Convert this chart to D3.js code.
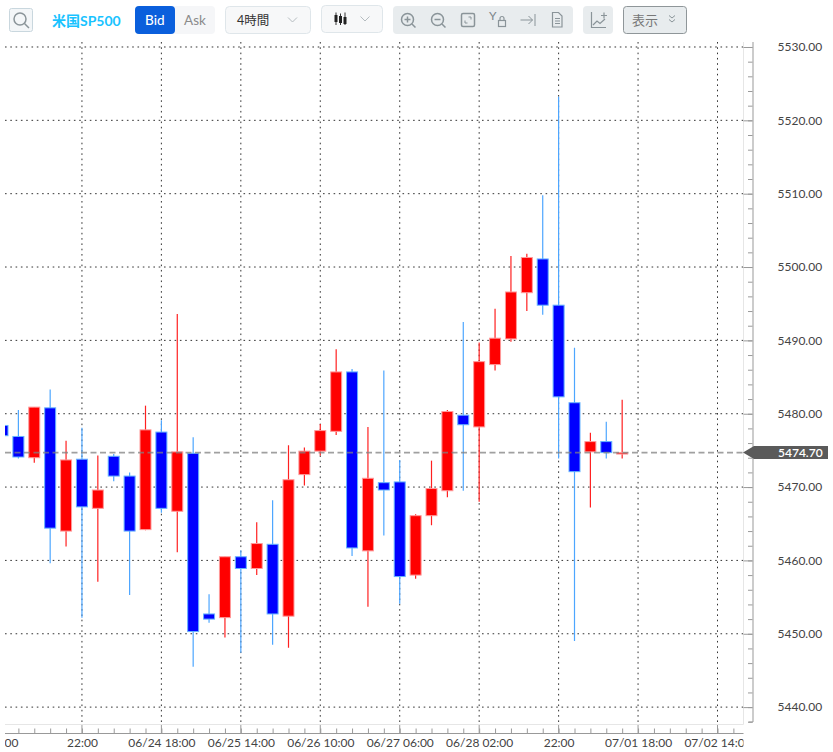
<!DOCTYPE html>
<html lang="ja">
<head>
<meta charset="UTF-8">
<title>米国SP500 4時間</title>
<script src="https://d3js.org/d3.v7.min.js"></script>
<style>
    body { margin: 0; background: #fff; font-family: Lato, "Noto Sans CJK JP", sans-serif; }
    svg { display: block; }
    .tick text { font-family: Lato, sans-serif; font-size: 12px; fill: #444; }
    .icon { fill: none; }
    .tb-text { font-family: Lato, "Noto Sans CJK JP", sans-serif; dominant-baseline: central; }
</style>
</head>
<body>
<svg id="chart" width="833" height="752"></svg>
<script>
// 4 hour candles
const opens  = [5478.4, 5476.9, 5474.0, 5480.8, 5464.0, 5473.8, 5467.1, 5474.2, 5471.5, 5464.2,
                5477.5, 5466.7, 5474.6, 5452.7, 5452.2, 5460.5, 5458.9, 5462.2, 5452.4, 5471.7,
                5474.9, 5477.6, 5485.7, 5461.3, 5470.6, 5470.7, 5458.0, 5466.1, 5469.5, 5479.8,
                5478.2, 5486.7, 5490.2, 5496.5, 5501.1, 5494.8, 5481.5, 5474.8, 5476.2, 5474.5];
const closes = [5477.0, 5474.1, 5480.9, 5464.4, 5473.7, 5467.3, 5469.6, 5471.5, 5464.0, 5477.8,
                5467.1, 5474.8, 5450.3, 5452.0, 5460.5, 5458.9, 5462.3, 5452.7, 5471.0, 5474.9,
                5477.7, 5485.7, 5461.7, 5471.2, 5469.6, 5457.8, 5466.1, 5469.8, 5480.3, 5478.5,
                5487.1, 5490.3, 5496.6, 5501.3, 5494.8, 5482.3, 5472.1, 5476.2, 5474.7, 5474.7];
const highs  = [5478.4, 5480.5, 5480.9, 5483.3, 5476.3, 5478.1, 5474.3, 5474.5, 5472.0, 5481.1,
                5479.1, 5493.6, 5476.8, 5455.4, 5460.5, 5461.4, 5465.2, 5468.2, 5475.7, 5475.4,
                5478.6, 5488.8, 5486.1, 5478.2, 5485.9, 5473.7, 5466.3, 5473.6, 5480.5, 5492.5,
                5489.7, 5494.3, 5501.5, 5501.8, 5509.8, 5523.2, 5489.0, 5477.4, 5478.9, 5481.9];
const lows   = [5477.0, 5473.9, 5473.3, 5459.6, 5461.9, 5452.2, 5457.1, 5470.8, 5455.3, 5464.1,
                5466.5, 5461.1, 5445.5, 5451.5, 5449.5, 5447.4, 5458.0, 5448.5, 5448.1, 5470.2,
                5474.3, 5477.1, 5460.6, 5453.7, 5463.4, 5454.1, 5457.5, 5464.8, 5468.6, 5469.5,
                5468.0, 5485.9, 5489.8, 5494.0, 5493.5, 5473.9, 5449.0, 5467.2, 5473.9, 5473.9];

const lastPrice = 5474.70;
const priceTicks = [5440, 5450, 5460, 5470, 5480, 5490, 5500, 5510, 5520, 5530];
const priceMinor = d3.range(5438, 5531, 2);
const timeTicks = [0, 5, 10, 15, 20, 25, 30, 35, 40, 45];
const timeLabels = ["02:00", "22:00", "06/24 18:00", "06/25 14:00", "06/26 10:00",
                    "06/27 06:00", "06/28 02:00", "22:00", "07/01 18:00", "07/02 14:00"];
const timeMinor = d3.range(0, 47);

const plotLeft = 5, plotRight = 743.5, plotTop = 42, plotBottom = 722, axisX = 752.5, axisY = 733.5;

const svg = d3.select("#chart");
const x = d3.scaleLinear().domain([0, 45]).range([2.5, 717.5]);
const y = d3.scaleLinear().domain([5437.97, 5530.68]).range([plotBottom, plotTop]);

const defs = svg.append("defs");
defs.append("clipPath").attr("id", "plot").append("rect")
    .attr("x", plotLeft).attr("y", plotTop).attr("width", plotRight - plotLeft).attr("height", axisY - plotTop);
defs.append("clipPath").attr("id", "labels").append("rect")
    .attr("x", plotLeft).attr("y", -10).attr("width", plotRight - plotLeft).attr("height", 30);

// grid
const plot = svg.append("g").attr("clip-path", "url(#plot)");
plot.selectAll(".hgrid").data(priceTicks).enter().append("line")
    .attr("x1", plotLeft).attr("x2", plotRight)
    .attr("y1", d => y(d)).attr("y2", d => y(d))
    .attr("stroke", "#333").attr("stroke-dasharray", "1.6 3.7");
plot.selectAll(".vgrid").data(timeTicks.slice(1)).enter().append("line")
    .attr("x1", d => x(d)).attr("x2", d => x(d))
    .attr("y1", plotTop).attr("y2", 724.5)
    .attr("stroke", "#333").attr("stroke-dasharray", "1.6 3.7");

// axis frame
svg.append("line").attr("x1", plotRight).attr("x2", plotRight).attr("y1", plotTop).attr("y2", 724.5).attr("stroke", "#e6e6e6");
svg.append("line").attr("x1", plotLeft).attr("x2", plotRight).attr("y1", 724.5).attr("y2", 724.5).attr("stroke", "#e6e6e6");

// right axis
const yMinor = svg.append("g").attr("transform", `translate(${axisX},0)`)
    .call(d3.axisLeft(y).tickValues(priceMinor).tickSize(4.5).tickFormat(""));
yMinor.selectAll("line").attr("stroke", "#999");
yMinor.select(".domain").attr("stroke", "#999").attr("d", `M0.5,${plotTop}V${plotBottom}H-4`);

const yAxis = svg.append("g").attr("transform", `translate(${axisX},0)`)
    .call(d3.axisRight(y).tickValues(priceTicks).tickSize(0).tickPadding(25).tickFormat(d3.format(".2f")));
yAxis.select(".domain").remove();
yAxis.selectAll(".tick").append("line").attr("x1", -9).attr("x2", 0).attr("stroke", "#999");

// bottom axis
const xMinor = svg.append("g").attr("transform", `translate(0,${axisY})`).attr("clip-path", "url(#labels)")
    .call(d3.axisTop(x).tickValues(timeMinor).tickSize(5).tickFormat(""));
xMinor.select(".domain").remove();
xMinor.selectAll("line").attr("stroke", "#999");
svg.append("line").attr("x1", plotLeft).attr("x2", plotRight).attr("y1", axisY).attr("y2", axisY).attr("stroke", "#999");
plot.selectAll(".xmajor").data(timeTicks.slice(1)).enter().append("line")
    .attr("x1", d => x(d)).attr("x2", d => x(d))
    .attr("y1", 724.5).attr("y2", axisY).attr("stroke", "#999");

const xAxis = svg.append("g").attr("transform", `translate(0,${axisY})`).attr("clip-path", "url(#labels)")
    .call(d3.axisBottom(x).tickValues(timeTicks).tickSize(0).tickPadding(5)
        .tickFormat((d, i) => timeLabels[i]));
xAxis.select(".domain").remove();

// candles
const candles = plot.selectAll(".candle").data(opens.map((o, i) => i)).enter().append("g");
const isUp = i => closes[i] >= opens[i];
candles.append("line")
    .attr("x1", i => x(i)).attr("x2", i => x(i))
    .attr("y1", i => y(highs[i])).attr("y2", i => y(lows[i]))
    .attr("stroke", i => isUp(i) ? "#ff2020" : "#4da6ff")
    .attr("stroke-width", 1.2);
candles.append("rect")
    .attr("x", i => x(i) - 5.5)
    .attr("width", 11)
    .attr("y", i => y(Math.max(opens[i], closes[i])))
    .attr("height", i => Math.max(1, Math.abs(y(opens[i]) - y(closes[i]))))
    .attr("fill", i => isUp(i) ? "#ff0000" : "#0000ff")
    .attr("stroke", i => isUp(i) ? "#ff9a9a" : "#66b3ff")
    .attr("stroke-width", 1);

// last price line and tag
svg.append("line")
    .attr("x1", plotLeft).attr("x2", plotRight)
    .attr("y1", y(lastPrice)).attr("y2", y(lastPrice))
    .attr("stroke", "#808080").attr("stroke-opacity", 0.75)
    .attr("stroke-width", 1.6).attr("stroke-dasharray", "6 3.5");
const tagY = y(lastPrice);
svg.append("path")
    .attr("d", `M743,${tagY}L754,${tagY - 6.5}H828V${tagY + 6.5}H754Z`)
    .attr("fill", "#5a5a5a");
svg.append("text")
    .attr("x", 778).attr("y", tagY).attr("dy", "0.35em")
    .attr("font-family", "Lato, sans-serif").attr("font-size", 12).attr("font-weight", 600)
    .attr("fill", "#fff").text(d3.format(".2f")(lastPrice));

// toolbar
const bar = svg.append("g");
const box = (x0, y0, w, h, fill, stroke, r) => bar.append("rect")
    .attr("x", x0).attr("y", y0).attr("width", w).attr("height", h).attr("rx", r)
    .attr("fill", fill).attr("stroke", stroke || "none");
const label = (tx, ty, str, size, color, weight) => bar.append("text").attr("class", "tb-text")
    .attr("x", tx).attr("y", ty).attr("font-size", size).attr("fill", color)
    .attr("font-weight", weight || 400).text(str);
const icon = (d, width, color) => bar.append("path").attr("class", "icon").attr("d", d)
    .attr("stroke", color || "#8a9499").attr("stroke-width", width || 1.5);

box(9.5, 8.5, 23, 23, "#f3f6f8", "#c9d7de", 2);
bar.append("circle").attr("class", "icon").attr("cx", 20).attr("cy", 19).attr("r", 6)
    .attr("stroke", "#8a9499").attr("stroke-width", 1.5);
icon("M24.5,23.5L29,28");
label(52, 20, "米国SP500", 14, "#19c3ff", 700);

box(135, 6, 80, 28, "#f5f6f8", null, 4);
box(135, 6, 40, 28, "#0a5fdc", null, 4);
label(145, 20, "Bid", 13.5, "#fff", 500);
label(184, 20, "Ask", 13.5, "#8a8a8a");

box(225.5, 6.5, 85, 27, "#f7f8f9", "#dfe6ea", 4);
label(237, 20, "4時間", 12.5, "#333");
icon("M288,17.5L292.5,22L297,17.5", 1, "#b5bcc0");

box(321.5, 5.5, 61, 27, "#f7f8f9", "#dfe6ea", 4);
[336, 340.5, 345].forEach((cx, i) => {
    bar.append("line").attr("x1", cx).attr("x2", cx).attr("y1", 12.5 + (i === 1 ? 1 : 0)).attr("y2", 25).attr("stroke", "#333");
    bar.append("rect").attr("x", cx - 1.5).attr("y", 15 + i).attr("width", 3).attr("height", 7).attr("fill", "#222");
});
icon("M360.5,16.5L365,21L369.5,16.5", 1, "#b5bcc0");

box(393, 6, 180, 28, "#e8ecee", null, 4);
[[407.5, "M404.5,19.5h6M407.5,16.5v6"], [437.5, "M434.5,19.5h6"]].forEach(([cx, d]) => {
    bar.append("circle").attr("class", "icon").attr("cx", cx).attr("cy", 19.5).attr("r", 6)
        .attr("stroke", "#8a9499").attr("stroke-width", 1.5);
    icon(d);
    icon(`M${cx + 4.5},24L${cx + 8},27.5`);
});
bar.append("rect").attr("class", "icon").attr("x", 461.5).attr("y", 13.5).attr("width", 13).attr("height", 13).attr("rx", 1.5)
    .attr("stroke", "#8a9499").attr("stroke-width", 1.5);
icon("M465,23V20.5M465,23H467.5M471,17V19.5M471,17H468.5", 1);
label(489, 15.5, "Y", 12, "#7a858a");
bar.append("rect").attr("class", "icon").attr("x", 498.5).attr("y", 20.5).attr("width", 7).attr("height", 6)
    .attr("stroke", "#8a9499").attr("stroke-width", 1.2);
icon("M500,20.5v-2a2,2 0 0 1 4,0v2", 1.2);
icon("M520.5,20h12M528.5,16l4,4l-4,4M535,14v12", 1);
icon("M552.5,12.5h6l3.5,3.5v11h-9.5zM555,18.5h5M555,21h5M555,23.5h5", 1.2);

box(583, 6, 30, 28, "#e8ecee", null, 4);
icon("M591.5,12v15.5H606M593,25l4,-4l3,2.5l5,-4.5", 1.2);
icon("M601,15.5h6M604,12.5v6", 1.2);

box(623.5, 6.5, 63, 27, "#e8ecee", "#8f9699", 3);
label(632, 20, "表示", 13, "#777");
icon("M669,15.5L672,18L675,15.5M669,19.5L672,22L675,19.5", 1);
</script>
</body>
</html>
